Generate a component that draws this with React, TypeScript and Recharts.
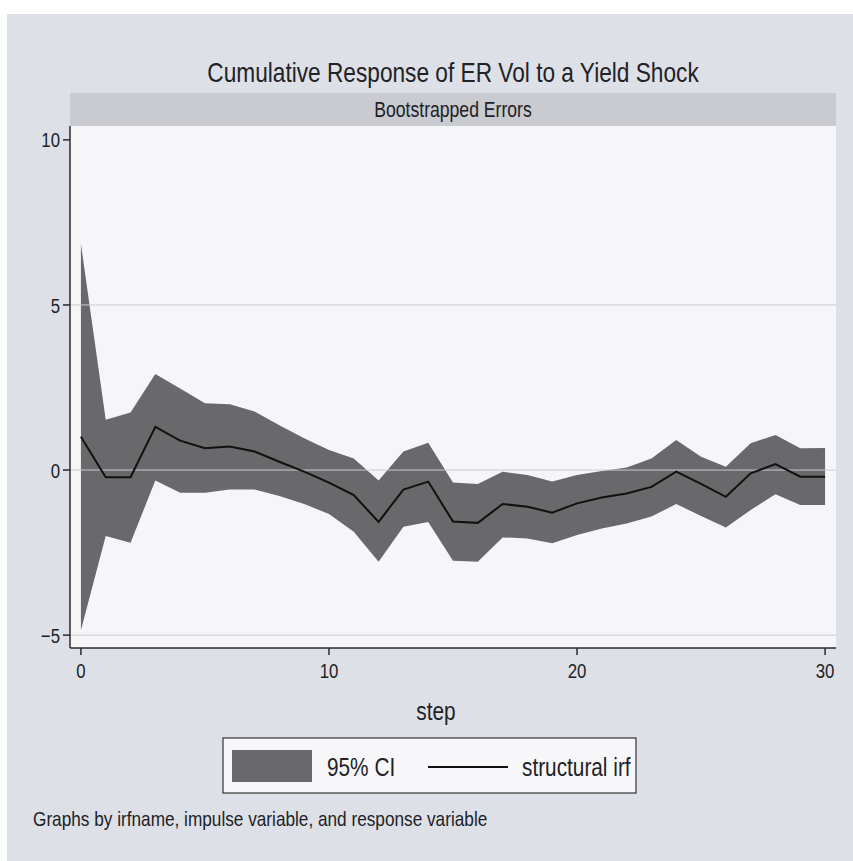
import { Area, CartesianGrid, ComposedChart, Line, ReferenceLine, XAxis, YAxis } from 'recharts'

const steps = [0, 1, 2, 3, 4, 5, 6, 7, 8, 9, 10, 11, 12, 13, 14, 15, 16, 17, 18, 19, 20, 21, 22, 23, 24, 25, 26, 27, 28, 29, 30]
const irf = [1.01, -0.22, -0.22, 1.31, 0.89, 0.66, 0.71, 0.56, 0.25, -0.05, -0.38, -0.76, -1.57, -0.59, -0.35, -1.56, -1.6, -1.03, -1.11, -1.29, -1.01, -0.83, -0.71, -0.51, -0.05, -0.42, -0.81, -0.1, 0.18, -0.2, -0.2]
const ciUpper = [6.85, 1.52, 1.74, 2.91, 2.47, 2.02, 1.99, 1.77, 1.36, 0.96, 0.61, 0.35, -0.32, 0.56, 0.83, -0.38, -0.42, -0.05, -0.15, -0.35, -0.15, -0.03, 0.08, 0.35, 0.91, 0.4, 0.1, 0.81, 1.06, 0.66, 0.67]
const ciLower = [-4.85, -2.0, -2.2, -0.32, -0.69, -0.69, -0.59, -0.59, -0.79, -1.03, -1.33, -1.87, -2.78, -1.72, -1.57, -2.75, -2.78, -2.04, -2.07, -2.22, -1.97, -1.77, -1.62, -1.41, -1.03, -1.39, -1.74, -1.21, -0.73, -1.06, -1.06]
const xTicks = [0, 10, 20, 30]
const yTicks = [-5, 0, 5, 10]
const gridValues = [-5, 0, 5]

const title = 'Cumulative Response of ER Vol to a Yield Shock'
const subtitle = 'Bootstrapped Errors'
const xLabel = 'step'
const ciLabel = '95% CI'
const irfLabel = 'structural irf'
const note = 'Graphs by irfname, impulse variable, and response variable'

const data = steps.map((step, i) => ({
  step,
  ci: [ciLower[i], ciUpper[i]],
  irf: irf[i],
}))

const font = '"Liberation Sans", Arial, sans-serif'
const ink = '#222226'
const bandColor = '#69696c'

function NarrowText({ x, y, size, sx = 0.8, anchor = 'start', children }: any) {
  return (
    <text
      transform={`translate(${x} ${y}) scale(${sx} 1)`}
      fontSize={size}
      fontFamily={font}
      fill={ink}
      textAnchor={anchor}
    >
      {children}
    </text>
  )
}

function fmt(v: number) {
  return String(v).replace('-', '\u2212')
}

function YTick({ x, y, payload }: any) {
  return (
    <text
      transform={`translate(${x} ${y}) scale(0.8 1)`}
      fontSize={21}
      fontFamily={font}
      fill={ink}
      textAnchor='end'
      dy='0.36em'
    >
      {fmt(payload.value)}
    </text>
  )
}

function XTick({ x, y, payload }: any) {
  return (
    <text
      transform={`translate(${x} ${y}) scale(0.8 1)`}
      fontSize={21}
      fontFamily={font}
      fill={ink}
      textAnchor='middle'
      dy='0.71em'
    >
      {fmt(payload.value)}
    </text>
  )
}

export default function App() {
  return (
    <div
      style={{
        position: 'absolute',
        left: 7,
        top: 14,
        width: 846,
        height: 847,
        background: '#dde0e7',
      }}
    >
      <ComposedChart
        width={846}
        height={847}
        data={data}
        margin={{ top: 112, right: 17, bottom: 173, left: 0 }}
      >
        <CartesianGrid fill='#f6f6f9' horizontal={false} vertical={false} />
        {gridValues.map((v) => (
          <ReferenceLine key={v} y={v} stroke='#c9c9d0' strokeWidth={1} />
        ))}
        <XAxis
          type='number'
          dataKey='step'
          domain={[-0.44, 30.44]}
          ticks={xTicks}
          allowDataOverflow
          height={40}
          tickSize={7}
          tickMargin={8}
          stroke='#2a2a2e'
          strokeWidth={1.5}
          tick={<XTick />}
        />
        <YAxis
          type='number'
          domain={[-5.39, 10.42]}
          ticks={yTicks}
          allowDataOverflow
          width={63}
          tickSize={7}
          tickMargin={3}
          stroke='#2a2a2e'
          strokeWidth={1.5}
          tick={<YTick />}
        />
        <Area
          type='linear'
          dataKey='ci'
          fill={bandColor}
          fillOpacity={1}
          stroke='none'
          isAnimationActive={false}
        />
        <Line
          type='linear'
          dataKey='irf'
          stroke='#111'
          strokeWidth={2}
          dot={false}
          isAnimationActive={false}
        />
      </ComposedChart>
      <svg
        width={846}
        height={847}
        style={{ position: 'absolute', left: 0, top: 0, pointerEvents: 'none' }}
      >
        <rect x={63} y={79} width={766} height={33} fill='#c9cbd1' />
        <NarrowText x={446} y={68} size={28} sx={0.81} anchor='middle'>{title}</NarrowText>
        <NarrowText x={446} y={103} size={22} anchor='middle'>{subtitle}</NarrowText>
        <NarrowText x={429} y={706} size={26} anchor='middle'>{xLabel}</NarrowText>
        <rect x={216} y={724} width={413} height={55} fill='#f7f7f9' stroke='#333' strokeWidth={1.2} />
        <rect x={225} y={736} width={80} height={32} fill={bandColor} />
        <NarrowText x={320} y={762} size={26}>{ciLabel}</NarrowText>
        <line x1={421} x2={501} y1={753} y2={753} stroke='#111' strokeWidth={2} />
        <NarrowText x={515} y={762} size={26}>{irfLabel}</NarrowText>
        <NarrowText x={26} y={812} size={21} sx={0.82}>{note}</NarrowText>
      </svg>
    </div>
  )
}
